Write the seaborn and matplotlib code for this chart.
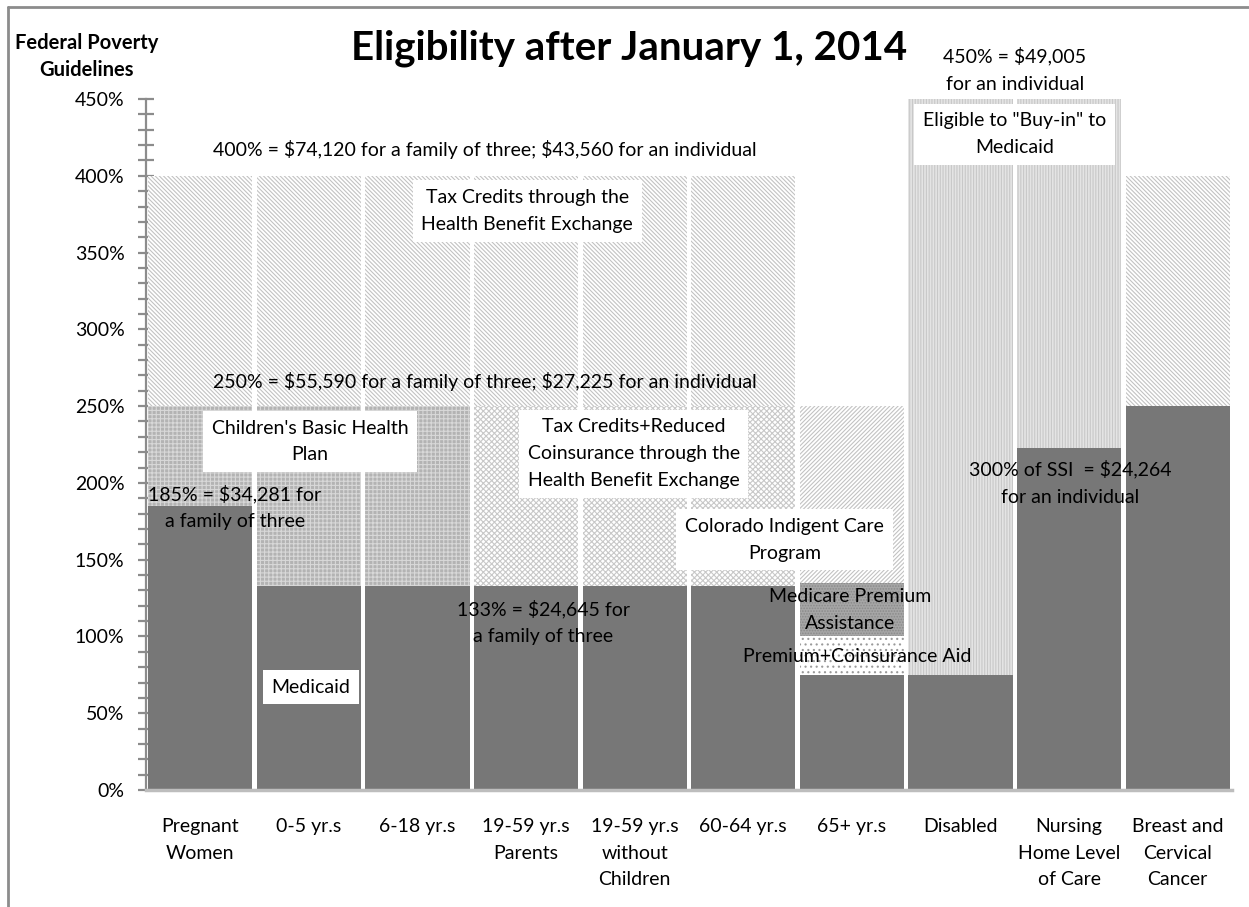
import matplotlib
matplotlib.use("Agg")
import matplotlib.pyplot as plt
from matplotlib.lines import Line2D
from matplotlib.ticker import MultipleLocator, FixedLocator
import seaborn as sns

categories = ["Pregnant\nWomen", "0-5 yr.s", "6-18 yr.s", "19-59 yr.s\nParents",
              "19-59 yr.s\nwithout\nChildren", "60-64 yr.s", "65+ yr.s", "Disabled",
              "Nursing\nHome Level\nof Care", "Breast and\nCervical\nCancer"]

# top of each program band in % of FPL (0 = not offered for that group)
medicaid_top      = [185, 133, 133, 133, 133, 133, 75, 75, 223, 250]
prem_coins_top    = [0, 0, 0, 0, 0, 0, 100, 0, 0, 0]
medicare_prem_top = [0, 0, 0, 0, 0, 0, 135, 0, 0, 0]
chp_top           = [250, 250, 250, 0, 0, 0, 0, 0, 0, 0]
reduced_coins_top = [0, 0, 0, 250, 250, 250, 0, 0, 0, 0]
cicp_top          = [0, 0, 0, 0, 0, 0, 250, 0, 0, 0]
buy_in_top        = [0, 0, 0, 0, 0, 0, 0, 450, 450, 0]
tax_credit_top    = [400, 400, 400, 400, 400, 400, 0, 0, 0, 400]

y_ticks = [0, 50, 100, 150, 200, 250, 300, 350, 400, 450]
y_tick_labels = [f"{v}%" for v in y_ticks]

sns.set_style("white")
plt.rcParams['font.family'] = ['Lato', 'DejaVu Sans']
plt.rcParams['text.color'] = 'black'
plt.rcParams['hatch.linewidth'] = 0.8

fig = plt.figure(figsize=(12.49, 9.07), dpi=100)
ax = fig.add_axes([0.1169, 0.1290, 0.8695, 0.7618])

# tallest layers first, each lower band painted over the one above it
layers = [
    (tax_credit_top,    "white",   "#c2c2c2", "\\" * 8),
    (buy_in_top,        "#e4e4e4", "#c8c8c8", "||||||"),
    (cicp_top,          "white",   "#c2c2c2", "/" * 8),
    (reduced_coins_top, "white",   "#c8c8c8", "xxxxxx"),
    (chp_top,           "#b3b3b3", "#d8d8d8", "++++"),
    (medicare_prem_top, "#a6a6a6", "#8a8a8a", "......"),
    (prem_coins_top,    "white",   "#9a9a9a", "..."),
    (medicaid_top,      "#777777", "#777777", None),
]
for tops, fc, hc, hatch in layers:
    sns.barplot(x=categories, y=tops, color=fc, edgecolor=hc, hatch=hatch,
                linewidth=0, width=0.96, saturation=1, ax=ax)

ax.set_xlim(-0.5, 9.5)
ax.set_ylim(0, 450)
ax.set_xticks(range(len(categories)))
ax.set_xticklabels(categories, linespacing=1.7)
ax.yaxis.set_major_locator(FixedLocator(y_ticks))
ax.set_yticklabels(y_tick_labels)
ax.yaxis.set_minor_locator(MultipleLocator(10))
ax.tick_params(axis='y', which='both', direction='inout', length=11, width=1.6,
               color='#8c8c8c', left=True, labelsize=14, labelcolor='black', pad=10)
ax.tick_params(axis='x', length=0, labelsize=14, labelcolor='black', pad=20)
ax.set_xlabel("")
ax.set_ylabel("")

sns.despine(ax=ax)
ax.spines['left'].set_color('#8c8c8c')
ax.spines['left'].set_linewidth(1.6)
ax.spines['bottom'].set_color('#bdbdbd')
ax.spines['bottom'].set_linewidth(2.5)

box = dict(facecolor='white', edgecolor='none', boxstyle='square,pad=0.45')
txt = dict(ha='center', va='center', fontsize=14, linespacing=1.7, zorder=5,
           parse_math=False)

ax.text(2.62, 417, "400% = $74,120 for a family of three; $43,560 for an individual", **txt)
ax.text(3.01, 377, "Tax Credits through the\nHealth Benefit Exchange", bbox=box, **txt)
ax.text(2.62, 266, "250% = $55,590 for a family of three; $27,225 for an individual", **txt)
ax.text(1.01, 227, "Children's Basic Health\nPlan", bbox=box, **txt)
ax.text(3.99, 219, "Tax Credits+Reduced\nCoinsurance through the\nHealth Benefit Exchange",
        bbox=box, **txt)
ax.text(0.32, 184, "185% = $34,281 for\na family of three", **txt)
ax.text(1.02, 67, "Medicaid", bbox=box, **txt)
ax.text(3.16, 109, "133% = $24,645 for\na family of three", **txt)
ax.text(5.38, 163, "Colorado Indigent Care\nProgram", bbox=box, **txt)
ax.text(5.98, 117, "Medicare Premium\nAssistance", **txt)
ax.text(6.05, 87, "Premium+Coinsurance Aid", **txt)
ax.text(7.50, 469, "450% = $49,005\nfor an individual", clip_on=False, **txt)
ax.text(7.50, 427, "Eligible to \"Buy-in\" to\nMedicaid", bbox=box, **txt)
ax.text(8.01, 200, "300% of SSI  = $24,264\nfor an individual", **txt)

fig.text(0.5036, 0.947, "Eligibility after January 1, 2014", ha='center', va='center',
         fontsize=29, fontweight='bold')
fig.text(0.0695, 0.938, "Federal Poverty\nGuidelines", ha='center', va='center',
         fontsize=14.5, fontweight='bold', linespacing=1.45)

# outer chart frame (cut off at right and bottom in the original)
fig.add_artist(Line2D([0.0064, 0.0064], [0.0, 0.9923], color='#8c8c8c', lw=2))
fig.add_artist(Line2D([0.0064, 1.0], [0.9923, 0.9923], color='#8c8c8c', lw=2))

fig.savefig("out.png", dpi=100)
